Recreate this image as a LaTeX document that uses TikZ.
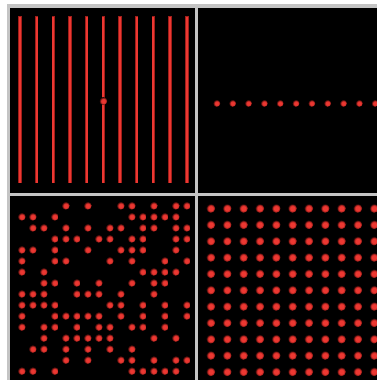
\documentclass[tikz,border=0pt]{standalone}

\definecolor{laser}{RGB}{236,56,50}
\definecolor{laserdim}{RGB}{160,30,26}
\definecolor{framegray}{RGB}{196,196,196}

\pgfdeclareradialshading{glow}{\pgfpoint{0bp}{0bp}}{color(0bp)=(laser); color(13bp)=(laser); color(19bp)=(laserdim); color(25bp)=(black); color(50bp)=(black)}

\begin{document}
\begin{tikzpicture}[
      x=1pt, y=-1pt,
      panel/.style={fill=black},
      beam/.style={draw=laserdim, line width=3.6pt},
      beamcore/.style={draw=laser, line width=2pt},
      spot/.style={shading=glow}
    ]
    \useasboundingbox (0,0) rectangle (377,380);
    \fill[white] (0,0) rectangle (377,380);
    \fill[framegray] (7,4) rectangle (377,380);

    % four panels
    \fill[panel] (10,8) rectangle (195,193);
    \fill[panel] (198,8) rectangle (377,193);
    \fill[panel] (10,196) rectangle (195,380);
    \fill[panel] (198,196) rectangle (377,380);

    % top left: vertical lines with one spot
    \foreach \i in {0,...,10} {
      \draw[beam] ({20+16.67*\i},16) -- ({20+16.67*\i},183);
      \draw[beamcore] ({20+16.67*\i},16.5) -- ({20+16.67*\i},182.5);
    }
    \shade[spot] (103.3,101) circle (4pt);

    % top right: one row of spots
    \foreach \i in {0,...,10}
      \shade[spot] ({216.7+15.83*\i},103.3) circle (3.6pt);

    % bottom left: scattered spots
    \foreach \r/\cols in {1/{5,7,10,11,13,15,16}, 2/{1,2,4,11,12,13,14,15},
        3/{2,3,5,7,9,10,12,13,15,16}, 4/{4,5,6,8,9,11,12,15,16},
        5/{1,2,4,7,10,11,12,15}, 6/{1,4,5,9,11,14,16},
        7/{1,3,12,13,14,15}, 8/{3,4,6,8,11,13,14},
        9/{1,2,3,6,7,8,10,13}, 10/{1,2,3,4,9,10,12,14,16},
        11/{1,4,5,6,7,8,10,12,14,16}, 12/{1,3,4,6,8,9,11,12,14},
        13/{3,5,6,7,8,9,13,15}, 14/{2,3,5,7,9,11},
        15/{5,7,10,11,13,15,16}, 16/{1,2,4,11,12,13,14,15}}
      \foreach \c in \cols
        \shade[spot] ({10.7+11*\c},{194.7+11.02*\r}) circle (4pt);

    % bottom right: full grid of spots
    \foreach \i in {0,...,10}
      \foreach \j in {0,...,10}
        \shade[spot] ({210.7+16.33*\i},{208.3+16.34*\j}) circle (4.6pt);

  \end{tikzpicture}
\end{document}
